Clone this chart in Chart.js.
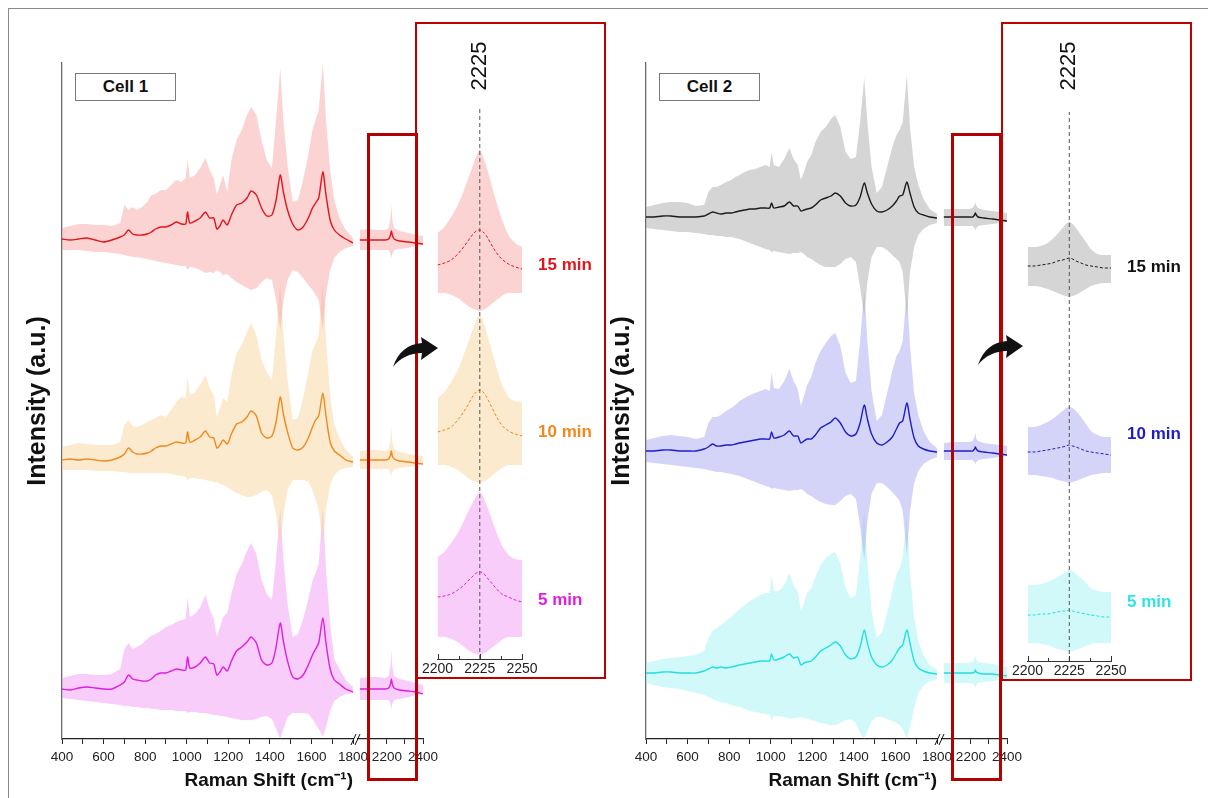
<!DOCTYPE html>
<html>
<head>
<meta charset="utf-8">
<script src="https://cdn.jsdelivr.net/npm/chart.js@4.4.1/dist/chart.umd.min.js"></script>
<style>
  body { margin: 0; background: #fff; font-family: Arial, "Liberation Sans", sans-serif; }
  #page { position: relative; width: 1208px; height: 798px; overflow: hidden; }
  .abs { position: absolute; }
  .frame { left: 8px; top: 8px; width: 1300px; height: 900px; border-left: 1px solid #8a8a8a; border-top: 1px solid #8a8a8a; }
  .cellTag { top: 73px; width: 99px; height: 26px; border: 1px solid #7a7a7a; background: #fff; font-weight: bold; font-size: 17px; line-height: 26px; text-align: center; color: #111; z-index: 3; }
  .redSmall { top: 133px; width: 51px; height: 648px; border: 3px solid #b30000; box-sizing: border-box; z-index: 4; }
  .redBig { top: 22px; width: 191px; height: 657px; border: 2px solid #c00000; box-sizing: border-box; z-index: 4; }
  .chartBox { position: absolute; top: 0; }
  svg { position: absolute; left: 0; top: 0; z-index: 5; }
</style>
</head>
<body>
<div id="page">
  <div class="abs frame"></div>

  <div class="chartBox" style="left:0;width:380px;height:798px"><canvas id="main1"></canvas></div>
  <div class="chartBox" style="left:340px;width:120px;height:798px"><canvas id="high1"></canvas></div>
  <div class="chartBox" style="left:420px;width:190px;height:700px"><canvas id="inset1"></canvas></div>

  <div class="chartBox" style="left:584px;width:380px;height:798px"><canvas id="main2"></canvas></div>
  <div class="chartBox" style="left:924px;width:120px;height:798px"><canvas id="high2"></canvas></div>
  <div class="chartBox" style="left:1010px;width:198px;height:700px"><canvas id="inset2"></canvas></div>

  <div class="abs cellTag" style="left:75px">Cell 1</div>
  <div class="abs cellTag" style="left:659px">Cell 2</div>

  <div class="abs redSmall" style="left:367px"></div>
  <div class="abs redBig" style="left:415px"></div>
  <div class="abs redSmall" style="left:951px;height:648px"></div>
  <div class="abs redBig" style="left:1001px;height:659px"></div>

  <svg width="1208" height="798">
    <path id="arrow" d="M393 367 C398 352 408 344 422 343 L421 337 L438 348 L421 360 L422 353 C410 353 400 358 393 367 Z" fill="#111"/>
    <use href="#arrow" transform="translate(585,-2)"/>
  </svg>
</div>

<script>
const family = "Arial, 'Liberation Sans', sans-serif";
Chart.defaults.font.family = family;

// ---- x positions (Raman shift, cm-1) ----
const shiftMain = [400,440,480,520,560,600,640,680,700,720,740,760,785,810,830,850,875,900,925,950,975,995,1004,1015,1040,1065,1090,1110,1130,1145,1160,1175,1195,1215,1240,1265,1290,1310,1335,1360,1385,1410,1430,1450,1465,1485,1510,1535,1560,1585,1605,1620,1635,1655,1670,1690,1710,1735,1765,1800];
const shiftHigh = [2050,2100,2150,2190,2210,2220,2225,2230,2240,2270,2320,2360,2400];
const shiftInset = [2200,2204,2208,2212,2215,2218,2221,2223,2225,2227,2229,2232,2235,2238,2242,2246,2250];

const mainTicks = [400,500,600,700,800,900,1000,1100,1200,1300,1400,1500,1600,1700,1800];
const highTicks = [2100,2200,2300,2400];
const insetTicks = [2200,2212.5,2225,2237.5,2250];

const timeLabels = ["15 min", "10 min", "5 min"];

// ---- Cell 1, 400-1800 (mean, upper and lower edge of the band, relative to each trace's baseline) ----
const c1Min15Mean = [1,0,1,2,0,-2,0,3,5,10,6,5,5,6,8,11,13,13,15,18,16,16,28,17,19,22,28,22,22,11,14,20,15,25,35,37,42,49,45,32,24,25,40,65,48,30,16,10,13,22,32,37,42,68,45,20,10,5,1,-3];
const c1Min15Upper = [12,14,16,16,15,15,14,17,35,30,33,30,33,38,45,46,50,50,55,60,58,62,80,62,65,72,82,70,62,45,55,65,48,80,100,110,125,133,125,100,80,72,120,172,120,75,38,40,60,85,110,120,130,177,120,70,40,22,10,2];
const c1Min15Lower = [10,10,10,11,12,12,13,14,15,16,17,17,18,19,20,21,22,23,24,25,26,26,30,27,28,30,33,32,33,30,32,35,34,38,42,45,48,50,48,42,38,40,60,90,60,40,30,32,38,45,50,55,60,90,55,30,18,12,8,6];

const c1Min10Mean = [0,1,0,1,0,-1,0,3,6,12,8,6,6,7,9,12,14,14,16,18,17,17,28,18,20,23,29,23,22,12,15,20,16,26,36,38,43,49,44,27,22,24,38,63,46,28,12,10,13,22,33,40,44,67,44,18,9,5,0,-2];
const c1Min10Upper = [13,15,17,16,15,15,15,18,35,40,34,33,35,38,40,42,45,43,50,58,63,62,83,65,68,75,85,72,65,43,52,62,58,85,107,115,128,137,125,100,88,80,125,180,125,80,40,42,62,88,110,117,125,180,120,65,35,22,10,3];
const c1Min10Lower = [10,10,10,10,11,11,11,12,12,13,13,13,13,13,13,13,13,13,14,15,16,17,20,18,18,19,20,21,22,22,24,25,27,30,33,35,37,37,35,32,30,35,55,85,55,30,20,20,20,22,30,40,50,85,50,25,15,10,8,7];

const c1Min5Mean = [0,-1,1,2,1,0,0,4,7,14,10,9,8,8,10,14,16,16,18,20,19,19,32,21,22,26,32,26,25,14,17,22,18,28,38,42,47,52,46,29,24,26,42,66,48,28,12,10,14,24,34,40,46,71,46,20,9,5,0,-3];
const c1Min5Upper = [11,13,15,15,14,14,15,20,40,46,40,42,45,50,53,55,58,62,64,67,69,70,92,72,75,82,94,80,70,52,62,72,76,95,115,125,138,146,135,109,95,89,130,182,130,85,52,55,70,90,108,116,125,182,120,65,30,20,9,2];
const c1Min5Lower = [9,10,11,12,13,14,15,16,17,17,18,18,19,19,20,20,21,21,21,22,22,22,24,23,23,24,24,25,26,26,27,27,28,29,30,31,31,31,30,28,27,30,40,50,40,28,24,24,24,25,30,35,40,48,38,22,12,8,5,4];

// ---- Cell 1, 2050-2400 ----
const c1Min15MeanHigh = [0,0,0,0,1,5,9,5,1,-1,-2,-3,-4];
const c1Min15UpperHigh = [10,11,10,10,12,22,35,20,12,9,7,5,4];
const c1Min15LowerHigh = [10,10,10,10,10,14,18,14,10,9,8,6,5];
const c1Min10MeanHigh = [0,0,0,0,1,5,9,4,1,-1,-2,-3,-4];
const c1Min10UpperHigh = [9,10,10,9,11,20,33,18,11,8,6,5,4];
const c1Min10LowerHigh = [9,9,9,9,9,13,16,12,9,8,7,6,5];
const c1Min5MeanHigh = [0,0,0,0,1,5,10,5,1,-1,-2,-3,-5];
const c1Min5UpperHigh = [11,12,12,11,13,24,38,22,13,10,8,6,4];
const c1Min5LowerHigh = [11,11,11,11,11,15,20,15,11,10,8,6,5];

// ---- Cell 2, 400-1800 ----
const c2Min15Mean = [0,0,1,1,0,0,0,1,3,5,4,3,4,4,5,6,7,8,8,9,9,9,14,9,10,11,15,11,11,6,7,8,9,12,17,19,21,24,21,14,11,12,20,34,24,13,6,5,7,11,16,21,22,35,24,10,4,2,0,-1];
const c2Min15Upper = [10,12,14,15,15,14,11,12,25,30,30,32,35,37,40,42,45,47,48,50,52,50,65,52,50,58,69,58,52,37,45,55,62,75,85,90,98,102,90,65,58,60,95,139,95,50,24,30,50,70,82,87,95,142,90,50,32,18,8,3];
const c2Min15Lower = [11,12,13,14,15,15,16,17,18,18,19,19,20,20,21,22,24,26,28,30,32,33,35,34,35,36,37,36,36,35,37,40,42,45,48,50,50,50,47,42,40,45,70,100,65,40,30,30,33,38,42,45,55,100,55,30,18,12,8,6];

const c2Min10Mean = [0,0,1,1,0,0,0,2,4,7,5,5,6,6,7,8,9,10,11,12,12,12,19,13,14,16,20,15,15,8,10,12,12,16,23,26,29,33,28,19,15,17,28,46,32,17,8,6,9,14,22,28,30,48,32,13,5,2,0,-1];
const c2Min10Upper = [11,13,15,16,15,14,12,14,28,34,34,36,40,43,46,50,53,56,58,60,62,60,78,63,62,70,82,70,62,45,55,66,74,88,100,108,115,118,105,78,68,70,110,161,110,60,30,36,58,80,95,100,110,161,105,58,36,20,9,3];
const c2Min10Lower = [11,12,13,14,15,16,17,18,19,20,21,21,22,23,24,25,27,29,31,33,35,36,38,37,38,39,40,39,39,38,40,43,45,48,51,53,54,54,50,45,43,48,75,109,70,43,32,32,36,41,46,50,60,104,60,32,20,13,9,6];

const c2Min5Mean = [0,0,1,1,0,0,0,2,4,6,5,6,5,6,7,8,9,10,11,12,12,12,19,13,14,16,19,15,16,8,10,11,12,16,22,25,28,31,27,18,14,16,26,43,30,16,8,6,8,13,20,25,28,43,30,12,5,2,0,-1];
const c2Min5Upper = [10,12,14,15,16,17,18,22,35,42,45,48,52,56,60,64,68,72,75,78,80,80,98,82,82,88,100,88,82,62,70,80,85,96,108,115,119,121,110,85,75,78,115,163,112,62,35,40,60,82,98,105,115,158,100,55,32,18,8,3];
const c2Min5Lower = [10,12,14,15,16,18,20,22,24,26,28,29,30,32,33,34,36,38,39,40,41,42,48,43,43,44,46,45,45,44,45,46,47,48,50,51,52,52,50,47,46,50,60,66,58,48,44,44,46,48,50,52,56,66,55,35,20,13,8,6];

// ---- Cell 2, 2050-2400 ----
const c2Min15MeanHigh = [0,0,0,0,0,2,4,2,0,-1,-2,-3,-4];
const c2Min15UpperHigh = [8,8,8,8,9,12,15,11,9,7,6,5,4];
const c2Min15LowerHigh = [9,9,9,9,9,11,13,11,9,8,7,6,5];
const c2Min10MeanHigh = [0,0,0,0,0,2,4,2,0,-1,-2,-3,-4];
const c2Min10UpperHigh = [8,9,9,9,10,14,18,12,10,8,7,6,5];
const c2Min10LowerHigh = [9,9,9,9,9,11,13,11,9,8,7,6,5];
const c2Min5MeanHigh = [0,0,0,0,0,1,3,1,0,-1,-1,-2,-3];
const c2Min5UpperHigh = [10,10,10,10,11,14,17,13,11,10,9,8,6];
const c2Min5LowerHigh = [10,10,10,10,10,12,14,12,10,9,8,7,6];

// ---- zoomed 2200-2250 region ----
const c1InsetMin15Mean = [0,2,5,11,17,24,31,34,35,33,29,20,12,6,1,-2,-4];
const c1InsetMin15Upper = [32,38,48,60,72,86,100,109,115,108,98,80,62,46,30,22,18];
const c1InsetMin15Lower = [28,28,30,33,37,41,44,45,46,45,43,39,35,31,28,28,28];
const c1InsetMin10Mean = [0,2,5,12,19,27,36,40,42,40,35,25,15,7,1,-2,-4];
const c1InsetMin10Upper = [34,40,50,62,75,89,103,112,117,111,100,82,64,48,35,31,30];
const c1InsetMin10Lower = [33,33,35,38,42,46,49,50,51,50,48,44,40,36,33,33,33];
const c1InsetMin5Mean = [0,1,3,7,11,16,21,24,25,24,20,14,8,3,0,-3,-5];
const c1InsetMin5Upper = [40,45,54,64,74,85,95,101,105,100,92,78,64,52,42,38,37];
const c1InsetMin5Lower = [40,40,42,45,49,53,56,57,58,57,55,51,47,43,40,40,40];

const c2InsetMin15Mean = [0,0,1,2,3,5,6,7,8,7,5,3,1,0,-1,-2,-2];
const c2InsetMin15Upper = [19,19,20,23,27,32,38,42,44,42,38,31,24,17,12,11,11];
const c2InsetMin15Lower = [20,20,21,23,25,27,29,30,31,30,29,26,23,20,18,17,17];
const c2InsetMin10Mean = [0,0,1,2,3,4,5,6,7,6,5,3,1,0,-1,-2,-3];
const c2InsetMin10Upper = [25,25,27,30,33,37,41,44,45,44,41,35,28,21,17,15,15];
const c2InsetMin10Lower = [23,23,24,25,26,28,29,30,31,30,29,27,25,23,22,21,21];
const c2InsetMin5Mean = [0,0,1,1,2,3,4,4,5,4,3,2,1,0,-1,-2,-2];
const c2InsetMin5Upper = [30,30,31,33,35,38,41,43,45,44,41,37,32,27,24,23,23];
const c2InsetMin5Lower = [28,28,29,30,32,34,35,36,37,36,35,33,31,29,28,28,28];

// stacking offsets (a.u.) used to separate the traces
const c1Offsets = [499, 279, 50];
const c2Offsets = [522, 288, 66];
const c1InsetOffsets = [394, 227, 62];
const c2InsetOffsets = [395, 209, 46];
const insetLabelLevels = [394, 227, 59];

const c1Lines = ["#e3141b", "#f08a1c", "#e01ee0"];
const c1Bands = ["rgba(247,168,168,0.5)", "rgba(250,214,160,0.5)", "rgba(244,156,244,0.5)"];
const c2Lines = ["#1c1c1c", "#1e1ec8", "#22e0e0"];
const c2Bands = ["rgba(172,172,172,0.5)", "rgba(170,170,244,0.5)", "rgba(166,244,244,0.5)"];
const c2LabelColors = ["#111111", "#1e1ec8", "#2ee4e4"];

const rows = (means, uppers, lowers) =>
  means.map((mean, i) => ({ mean, upper: uppers[i], lower: lowers[i] }));

const bandSets = (xs, traces, offsets, lineColors, bandColors, inset) => {
  const sets = [];
  traces.forEach((tr, i) => {
    const off = offsets[i];
    const common = { pointRadius: 0, cubicInterpolationMode: inset ? "monotone" : "default" };
    sets.push({ ...common, data: xs.map((x, k) => ({ x, y: off + tr.upper[k] })), fill: "+1", backgroundColor: bandColors[i], borderWidth: 0, order: 2 });
    sets.push({ ...common, data: xs.map((x, k) => ({ x, y: off - tr.lower[k] })), fill: false, borderWidth: 0, order: 2 });
    sets.push({
      ...common,
      data: xs.map((x, k) => ({ x, y: off + tr.mean[k] })),
      fill: false,
      borderColor: lineColors[i],
      borderWidth: inset ? 1 : 1.4,
      borderDash: inset ? [3, 2] : [],
      tension: inset ? 0 : 0.25,
      order: 1,
    });
  });
  return sets;
};

const baseOptions = () => ({
  responsive: true,
  maintainAspectRatio: false,
  animation: false,
  events: [],
  plugins: { legend: { display: false }, tooltip: { enabled: false } },
  elements: { line: { tension: 0 } },
});

const tickFont = { size: 13.5, family };

const mainOptions = () => ({
  ...baseOptions(),
  layout: { padding: { left: 20, top: 63, right: 27, bottom: 0 } },
  scales: {
    x: {
      type: "linear",
      min: 400,
      max: 1800,
      afterBuildTicks: (s) => { s.ticks = mainTicks.map((v) => ({ value: v })); },
      afterFit: (s) => { s.height = 59; },
      ticks: { callback: (v) => (v % 200 === 0 ? v : ""), font: tickFont, color: "#222", padding: 5, maxRotation: 0, minRotation: 0, autoSkip: false },
      grid: { drawOnChartArea: false, tickLength: 5, tickColor: "#222" },
      border: { color: "#222", width: 1.3 },
      title: { display: true, align: "end", text: "Raman Shift (cm⁻¹)", color: "#111", font: { size: 19, weight: "bold", family }, padding: { top: 0, bottom: 6 } },
    },
    y: {
      min: 0,
      max: 676,
      afterFit: (s) => { s.width = 42; },
      ticks: { display: false },
      grid: { drawOnChartArea: false, drawTicks: false },
      border: { color: "#6a6a6a", width: 1.3 },
      title: { display: true, text: "Intensity (a.u.)", color: "#111", font: { size: 25, weight: "bold", family }, padding: { top: 3, bottom: 0 } },
    },
  },
});

const highOptions = () => ({
  ...baseOptions(),
  layout: { padding: { left: 18, top: 63, right: 37, bottom: 0 } },
  scales: {
    x: {
      type: "linear",
      min: 2040,
      max: 2400,
      afterBuildTicks: (s) => { s.ticks = highTicks.map((v) => ({ value: v })); },
      afterFit: (s) => { s.height = 59; },
      ticks: { callback: (v) => (v % 200 === 0 ? v : ""), font: tickFont, color: "#222", padding: 5, maxRotation: 0, minRotation: 0, autoSkip: false },
      grid: { drawOnChartArea: false, tickLength: 5, tickColor: "#222" },
      border: { color: "#222", width: 1.3 },
    },
    y: { display: false, min: 0, max: 676 },
  },
});

const insetOptions = (padLeft, padRight, padTop, axisHeight, yMax) => ({
  ...baseOptions(),
  layout: { padding: { left: padLeft, top: padTop, right: padRight, bottom: 0 } },
  scales: {
    x: {
      type: "linear",
      min: 2200,
      max: 2250,
      afterBuildTicks: (s) => { s.ticks = insetTicks.map((v) => ({ value: v })); },
      afterFit: (s) => { s.height = axisHeight; },
      ticks: { callback: (v) => (v % 25 === 0 ? v : ""), font: { size: 14, family }, color: "#222", padding: 2, maxRotation: 0, minRotation: 0, autoSkip: false },
      grid: { drawOnChartArea: false, drawTicks: false },
      border: { color: "#333", width: 1 },
    },
    y: { display: false, min: 0, max: yMax },
  },
});

// "//" marks where the shift axis is broken
const axisBreak = {
  id: "axisBreak",
  afterDraw(chart) {
    const { ctx, chartArea } = chart;
    const x0 = chartArea.left - 4;
    const y0 = chartArea.bottom;
    ctx.save();
    ctx.strokeStyle = "#111";
    ctx.lineWidth = 1;
    [0, 4].forEach((dx) => {
      ctx.beginPath();
      ctx.moveTo(x0 + dx - 3, y0 + 6);
      ctx.lineTo(x0 + dx + 2, y0 - 5);
      ctx.stroke();
    });
    ctx.restore();
  },
};

const insetDecor = (labelColors) => ({
  id: "insetDecor",
  afterDraw(chart) {
    const { ctx, chartArea, scales } = chart;
    const xs = scales.x;
    const ys = scales.y;
    ctx.save();
    ctx.strokeStyle = "#333";
    ctx.lineWidth = 1;
    xs.ticks.forEach((t) => {
      const px = Math.round(xs.getPixelForValue(t.value)) + 0.5;
      const len = t.value % 25 === 0 ? 5 : 3;
      ctx.beginPath();
      ctx.moveTo(px, chartArea.bottom);
      ctx.lineTo(px, chartArea.bottom - len);
      ctx.stroke();
    });
    ctx.restore();

    ctx.save();
    ctx.translate(xs.getPixelForValue(2225), 66);
    ctx.rotate(-Math.PI / 2);
    ctx.font = `22px ${family}`;
    ctx.fillStyle = "#111";
    ctx.textAlign = "center";
    ctx.textBaseline = "middle";
    ctx.fillText("2225", 0, 0);
    ctx.restore();

    ctx.save();
    ctx.font = `bold 17px ${family}`;
    ctx.textBaseline = "middle";
    timeLabels.forEach((lab, i) => {
      ctx.fillStyle = labelColors[i];
      ctx.fillText(lab, chartArea.right + 16, ys.getPixelForValue(insetLabelLevels[i]));
    });
    ctx.restore();
  },
});

const guideLine = (top) => ({
  data: [{ x: 2225, y: 0 }, { x: 2225, y: top }],
  borderColor: "#555",
  borderWidth: 1,
  borderDash: [4, 3],
  pointRadius: 0,
  fill: false,
  order: 0,
});

const drawCell = (ids, traces, offsets, lineColors, bandColors, labelColors, inset) => {
  new Chart(document.getElementById(ids[0]), {
    type: "line",
    data: { datasets: bandSets(shiftMain, traces.main, offsets.main, lineColors, bandColors, false) },
    options: mainOptions(),
  });
  new Chart(document.getElementById(ids[1]), {
    type: "line",
    data: { datasets: bandSets(shiftHigh, traces.high, offsets.main, lineColors, bandColors, false) },
    options: highOptions(),
    plugins: [axisBreak],
  });
  new Chart(document.getElementById(ids[2]), {
    type: "line",
    data: { datasets: bandSets(shiftInset, traces.inset, offsets.inset, lineColors, bandColors, true).concat([guideLine(inset.guideTop)]) },
    options: insetOptions(17, inset.padRight, inset.top, inset.axisHeight, inset.yMax),
    plugins: [insetDecor(labelColors)],
  });
};

drawCell(
  ["main1", "high1", "inset1"],
  {
    main: rows([c1Min15Mean, c1Min10Mean, c1Min5Mean], [c1Min15Upper, c1Min10Upper, c1Min5Upper], [c1Min15Lower, c1Min10Lower, c1Min5Lower]),
    high: rows([c1Min15MeanHigh, c1Min10MeanHigh, c1Min5MeanHigh], [c1Min15UpperHigh, c1Min10UpperHigh, c1Min5UpperHigh], [c1Min15LowerHigh, c1Min10LowerHigh, c1Min5LowerHigh]),
    inset: rows([c1InsetMin15Mean, c1InsetMin10Mean, c1InsetMin5Mean], [c1InsetMin15Upper, c1InsetMin10Upper, c1InsetMin5Upper], [c1InsetMin15Lower, c1InsetMin10Lower, c1InsetMin5Lower]),
  },
  { main: c1Offsets, inset: c1InsetOffsets },
  c1Lines,
  c1Bands,
  c1Lines,
  { padRight: 88, top: 100, axisHeight: 41, yMax: 559, guideTop: 551 }
);

drawCell(
  ["main2", "high2", "inset2"],
  {
    main: rows([c2Min15Mean, c2Min10Mean, c2Min5Mean], [c2Min15Upper, c2Min10Upper, c2Min5Upper], [c2Min15Lower, c2Min10Lower, c2Min5Lower]),
    high: rows([c2Min15MeanHigh, c2Min10MeanHigh, c2Min5MeanHigh], [c2Min15UpperHigh, c2Min10UpperHigh, c2Min5UpperHigh], [c2Min15LowerHigh, c2Min10LowerHigh, c2Min5LowerHigh]),
    inset: rows([c2InsetMin15Mean, c2InsetMin10Mean, c2InsetMin5Mean], [c2InsetMin15Upper, c2InsetMin10Upper, c2InsetMin5Upper], [c2InsetMin15Lower, c2InsetMin10Lower, c2InsetMin5Lower]),
  },
  { main: c2Offsets, inset: c2InsetOffsets },
  c2Lines,
  c2Bands,
  c2LabelColors,
  { padRight: 97, top: 110, axisHeight: 39, yMax: 551, guideTop: 549 }
);
</script>
</body>
</html>
